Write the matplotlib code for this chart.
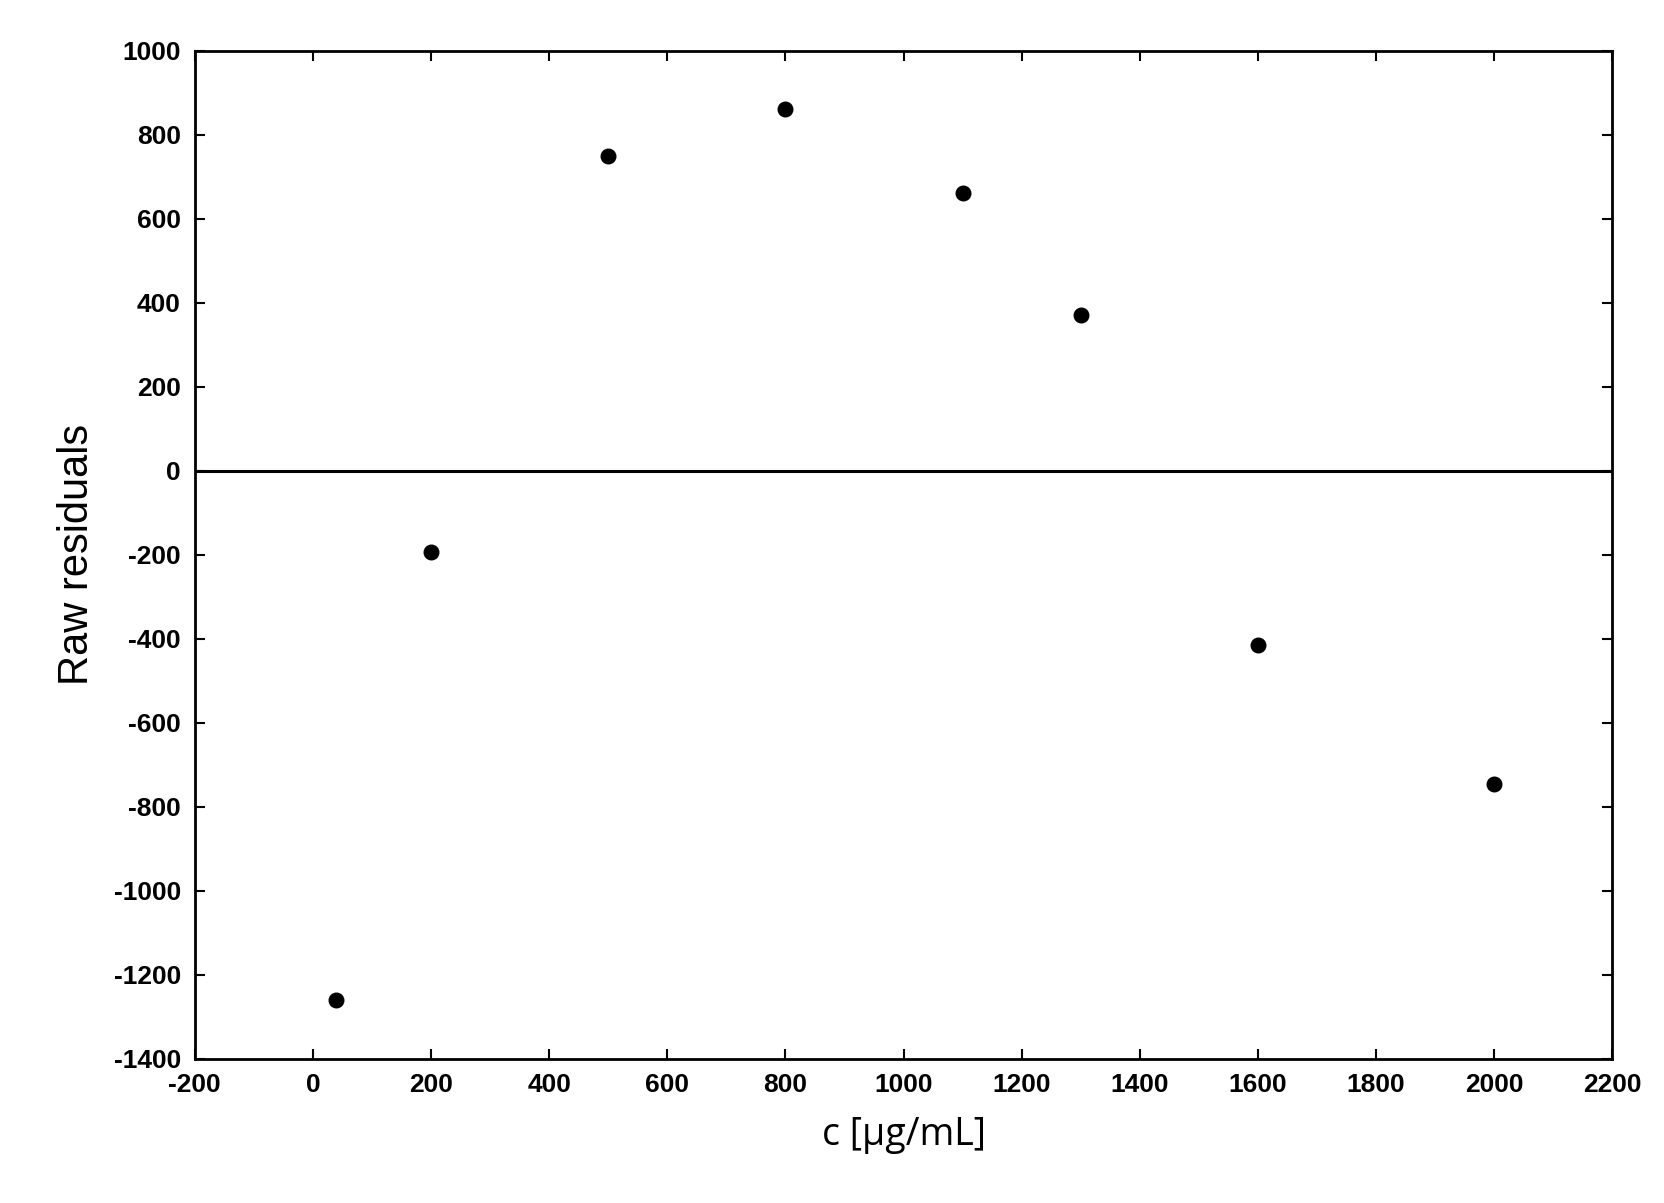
import matplotlib
matplotlib.use("Agg")
import matplotlib.pyplot as plt

plt.rcParams["axes.unicode_minus"] = False

conc = [40, 200, 500, 800, 1100, 1300, 1600, 2000]
residuals = [-1260, -195, 750, 860, 660, 370, -415, -745]
x_ticks = list(range(-200, 2201, 200))
y_ticks = list(range(-1400, 1001, 200))

fig = plt.figure(figsize=(16.64, 12.03), dpi=100)
ax = fig.add_axes([0.117, 0.120, 0.852, 0.838])

ax.scatter(conc, residuals, s=110, color="black", zorder=3)
ax.axhline(0, color="black", linewidth=2.2)

ax.set_xlim(-200, 2200)
ax.set_ylim(-1400, 1000)
ax.set_xticks(x_ticks)
ax.set_yticks(y_ticks)
ax.tick_params(direction="in", top=True, right=True, length=7, width=1.5,
               labelsize=19, pad=10)
for lbl in ax.get_xticklabels() + ax.get_yticklabels():
    lbl.set_fontfamily("Liberation Sans")
    lbl.set_fontweight("bold")
for s in ax.spines.values():
    s.set_linewidth(2)

ax.set_ylabel("Raw residuals", fontsize=30, family="Liberation Sans", labelpad=12)
ax.set_xlabel("c [µg/mL]", fontsize=27, family="Open Sans", labelpad=14)

fig.savefig("out.png", dpi=100)
